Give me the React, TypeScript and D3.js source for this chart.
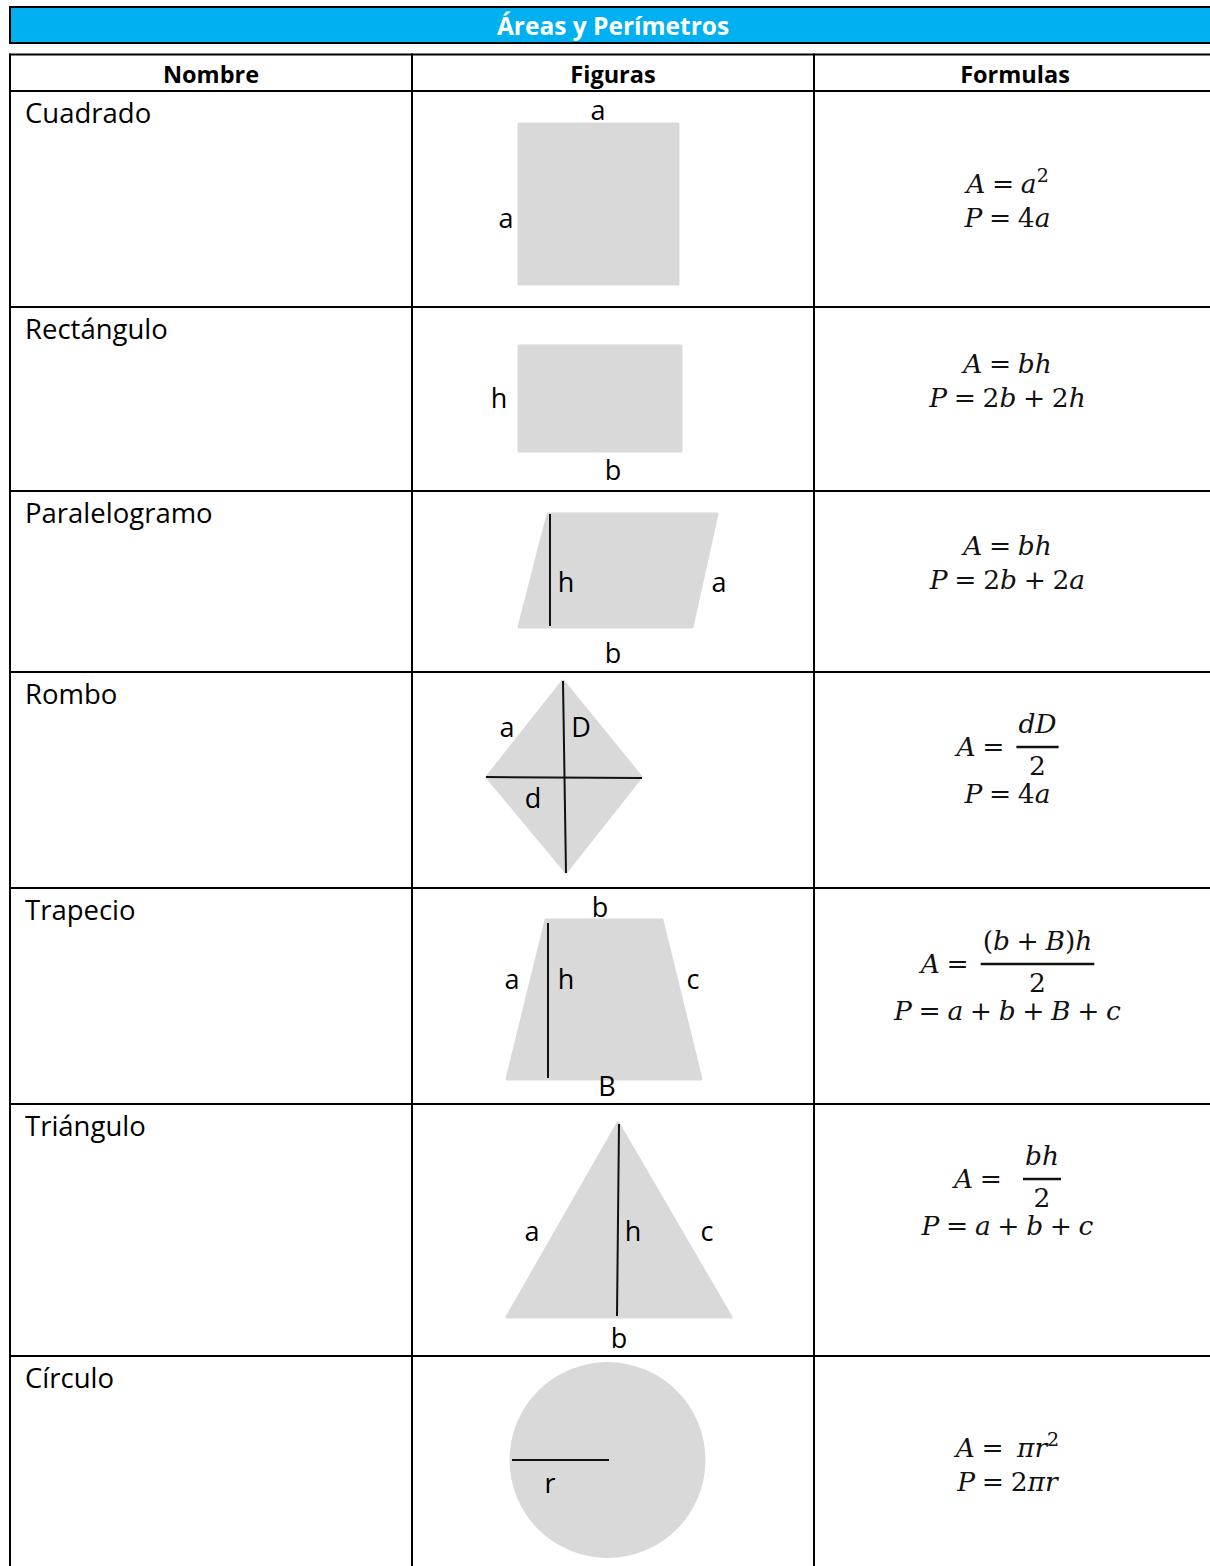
import React, { useEffect, useRef } from "react";
import * as d3 from "d3";

const TITLE = "Áreas y Perímetros";
const HEADERS = ["Nombre", "Figuras", "Formulas"];
const NAMES = ["Cuadrado", "Rectángulo", "Paralelogramo", "Rombo", "Trapecio", "Triángulo", "Círculo"];
const ROW_HEIGHTS = [216, 184, 181, 216, 216, 252, 230];

// area formula: plain string or a fraction
const AREA: (string | { num: string; den: string; gap: number })[] = [
  "A = a²",
  "A = bh",
  "A = bh",
  { num: "dD", den: "2", gap: 9 },
  { num: "(b + B)h", den: "2", gap: 9 },
  { num: "bh", den: "2", gap: 18 },
  "A =  πr²",
];
const PERIM = ["P = 4a", "P = 2b + 2h", "P = 2b + 2a", "P = 4a", "P = a + b + B + c", "P = a + b + c", "P = 2πr"];
const AREA_Y = [102, 66, 64, 84, 85, 84, 101];
const PERIM_Y = [136, 100, 98, 131, 132, 131, 135];

// figure geometry inside each "Figuras" cell (cell-local px)
type Shape = {
  poly?: number[][];
  circle?: number[];
  lines: number[][][];
  labels: [string, number, number][];
};
const SHAPES: Shape[] = [
  { poly: [[107, 33], [266, 33], [266, 193], [107, 193]], lines: [], labels: [["a", 186, 29], ["a", 94, 137]] },
  { poly: [[107, 39], [269, 39], [269, 144], [107, 144]], lines: [], labels: [["h", 87, 101], ["b", 201, 173]] },
  {
    poly: [[136, 23], [305, 23], [280, 136], [107, 136]],
    lines: [[[138, 23], [138, 135]]],
    labels: [["h", 154, 101], ["a", 307, 101], ["b", 201, 172]],
  },
  {
    poly: [[151, 9], [229, 105], [154, 200], [75, 105]],
    lines: [[[151, 9], [154, 201]], [[74, 105], [230, 106]]],
    labels: [["a", 95, 65], ["D", 169, 65], ["d", 121, 136]],
  },
  {
    poly: [[134, 32], [250, 32], [289, 191], [95, 191]],
    lines: [[[136, 35], [136, 190]]],
    labels: [["b", 188, 29], ["a", 100, 101], ["h", 154, 101], ["c", 281, 101], ["B", 195, 208]],
  },
  {
    poly: [[206, 19], [319, 213], [95, 213]],
    lines: [[[207, 20], [205, 212]]],
    labels: [["a", 120, 137], ["h", 221, 137], ["c", 295, 137], ["b", 207, 244]],
  },
  { circle: [195.5, 104, 98], lines: [[[100, 104], [197, 104]]], labels: [["r", 138, 137]] },
];

const W = 1210;
const H = 1566;
const SANS = "'Open Sans', 'Noto Sans', sans-serif";
const MATH = "'DejaVu Serif', serif";
const GRAY = "#d9d9d9";
const FS = 26.5;

// formula string as tspans: letters italic, digits/operators upright,
// spaces become small math gaps, ² becomes a raised 2
function mathText(sel: any, s: string) {
  let gap = 0;
  let raised = false;
  for (const ch of s) {
    if (ch === " ") {
      gap += FS * 0.25;
      continue;
    }
    const sup = ch === "²";
    const t = sel
      .append("tspan")
      .attr("font-style", /[A-Za-zπ]/.test(ch) ? "italic" : "normal")
      .text(sup ? "2" : ch);
    if (gap) t.attr("dx", gap);
    gap = 0;
    if (sup && !raised) {
      t.attr("dy", -FS * 0.42).attr("font-size", FS * 0.72);
      raised = true;
    } else if (!sup && raised) {
      t.attr("dy", FS * 0.42);
      raised = false;
    }
  }
  return sel;
}

const App = () => {
  const ref = useRef<SVGSVGElement>(null);

  useEffect(() => {
    const svg = d3.select(ref.current);
    svg.selectAll("*").remove();

    svg.append("rect").attr("width", W).attr("height", H).attr("fill", "#fff");

    const x = d3.scaleBand<string>().domain(HEADERS).range([10, 1216]);
    const tableTop = 54.5;
    const headerBottom = 91;
    const rowTops = [headerBottom, ...Array.from(d3.cumsum(ROW_HEIGHTS), (h) => headerBottom + h)];
    const tableRight = 1216;

    // title bar
    svg
      .append("rect")
      .attr("x", 10)
      .attr("y", 7)
      .attr("width", tableRight + 4 - 10)
      .attr("height", 36)
      .attr("fill", "#00b0f0")
      .attr("stroke", "#000")
      .attr("stroke-width", 2);
    svg
      .append("text")
      .attr("x", (10 + tableRight) / 2)
      .attr("y", 35)
      .attr("text-anchor", "middle")
      .attr("font-family", SANS)
      .attr("font-weight", 700)
      .attr("font-size", 24.5)
      .attr("fill", "#fff")
      .text(TITLE);

    // header
    svg
      .selectAll(".hdr")
      .data(HEADERS)
      .join("text")
      .attr("class", "hdr")
      .attr("x", (d) => x(d)! + x.bandwidth() / 2)
      .attr("y", 83)
      .attr("text-anchor", "middle")
      .attr("font-family", SANS)
      .attr("font-weight", 700)
      .attr("font-size", 23.5)
      .text((d) => d);

    // names
    svg
      .selectAll(".name")
      .data(NAMES)
      .join("text")
      .attr("class", "name")
      .attr("x", 25)
      .attr("y", (_, i) => rowTops[i] + 32)
      .attr("font-family", SANS)
      .attr("font-size", 27.5)
      .text((d) => d);

    // figures
    const line = d3.line();
    const fx = x("Figuras")!;
    SHAPES.forEach((s, i) => {
      const g = svg.append("g").attr("transform", `translate(${fx},${rowTops[i]})`);
      if (s.poly) {
        g.append("path")
          .attr("d", line(s.poly as [number, number][]) + "Z")
          .attr("fill", GRAY)
          .attr("stroke", GRAY)
          .attr("stroke-width", 3)
          .attr("stroke-linejoin", "round");
      }
      if (s.circle) {
        g.append("circle")
          .attr("cx", s.circle[0])
          .attr("cy", s.circle[1])
          .attr("r", s.circle[2])
          .attr("fill", GRAY);
      }
      s.lines.forEach((l) => {
        g.append("path")
          .attr("d", line(l as [number, number][]))
          .attr("stroke", "#111")
          .attr("stroke-width", 2)
          .attr("fill", "none");
      });
      g.selectAll(".lbl")
        .data(s.labels)
        .join("text")
        .attr("x", (d) => d[1])
        .attr("y", (d) => d[2])
        .attr("text-anchor", "middle")
        .attr("font-family", SANS)
        .attr("font-size", 27)
        .text((d) => d[0]);
    });

    // formulas
    const cx = x("Formulas")! + 193.5;
    const mathStyle = (t: any) => t.attr("font-family", MATH).attr("font-size", FS).attr("fill", "#111");

    AREA.forEach((a, i) => {
      const top = rowTops[i];
      if (typeof a === "string") {
        mathText(mathStyle(svg.append("text")).attr("x", cx).attr("y", top + AREA_Y[i]).attr("text-anchor", "middle"), a);
      } else {
        const base = top + AREA_Y[i];
        const lhs = mathText(mathStyle(svg.append("text")).attr("x", 0).attr("y", base), "A =");
        const num = mathText(mathStyle(svg.append("text")).attr("x", 0).attr("y", base - 23).attr("text-anchor", "middle"), a.num);
        const den = mathText(mathStyle(svg.append("text")).attr("x", 0).attr("y", base + 19).attr("text-anchor", "middle"), a.den);
        const lw = (lhs.node() as SVGTextElement).getBBox().width;
        const nw = (num.node() as SVGTextElement).getBBox().width;
        const bw = nw + 4;
        const x0 = cx - (lw + a.gap + bw) / 2;
        lhs.attr("x", x0);
        const bx = x0 + lw + a.gap;
        num.attr("x", bx + bw / 2);
        den.attr("x", bx + bw / 2);
        svg
          .append("line")
          .attr("x1", bx)
          .attr("x2", bx + bw)
          .attr("y1", base - 9)
          .attr("y2", base - 9)
          .attr("stroke", "#111")
          .attr("stroke-width", 2.4);
      }
    });
    PERIM.forEach((p, i) => {
      mathText(
        mathStyle(svg.append("text")).attr("x", cx).attr("y", rowTops[i] + PERIM_Y[i]).attr("text-anchor", "middle"),
        p
      );
    });

    // grid lines
    const grid = svg.append("g").attr("stroke", "#000").attr("stroke-width", 2);
    [tableTop, ...rowTops.slice(0, -1)].forEach((y) => {
      grid.append("line").attr("x1", 9).attr("x2", tableRight + 1).attr("y1", y).attr("y2", y);
    });
    [...HEADERS.map((h) => x(h)!), tableRight].forEach((xx) => {
      grid.append("line").attr("x1", xx).attr("x2", xx).attr("y1", tableTop - 1).attr("y2", H + 20);
    });
  }, []);

  return (
    <div style={{ position: "absolute", left: 0, top: 0, width: W, height: H, overflow: "hidden" }}>
      <svg ref={ref} width={W} height={H} style={{ display: "block" }} />
    </div>
  );
};

export default App;
